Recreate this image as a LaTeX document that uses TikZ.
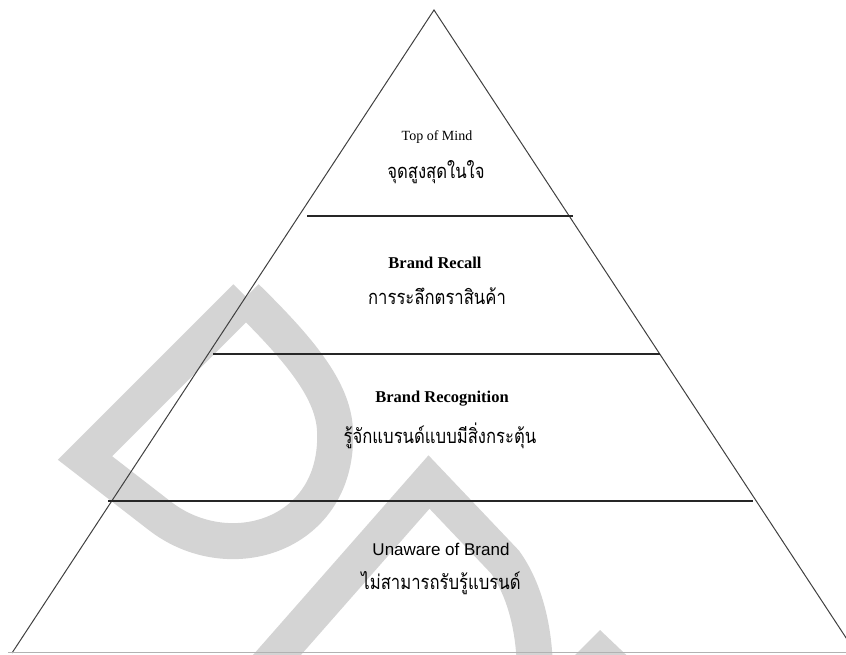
\documentclass[tikz,border=0pt]{standalone}
\usepackage{fontspec}
\setmainfont{Liberation Serif}
\newfontfamily\thaifont[Script=Thai]{Loma}
\newfontfamily\arialfont{Liberation Sans}
\newcommand\thtxt[1]{\scalebox{0.98}[1.18]{#1}}
\begin{document}
\begin{tikzpicture}[x=1pt,y=-1pt,
  wm/.style={draw=black!17,line width=36pt,line join=miter},
  edge/.style={draw=black!75,line width=1pt},
  band/.style={draw=black!85,line width=1.2pt},
  en/.style={font=\fontsize{14}{16}\selectfont,inner sep=0pt},
  enb/.style={font=\fontsize{16.5}{18}\selectfont\bfseries,inner sep=0pt},
  ensf/.style={font=\arialfont\fontsize{17}{19}\selectfont,inner sep=0pt},
  th/.style={font=\thaifont\fontsize{17}{20}\selectfont,inner sep=0pt}]
\useasboundingbox (0,0) rectangle (846,655);
\begin{scope}
\clip (0,0) rectangle (846,655);
% watermark
\draw[wm] (246,297) -- (85,458) -- (160,516) .. controls (230,570) and (340,535) .. (335,430) .. controls (333,390) and (300,350) .. (246,297);
\draw[wm] (262,672) -- (429,482) -- (505,562) .. controls (525,590) and (535,630) .. (535,675);
\fill[black!17] (600,630) -- (640,668) -- (562,668) -- cycle;
\end{scope}
% pyramid
\coordinate (apex) at (434,10);
\coordinate (bl) at (12,653);
\coordinate (br) at (856,653);
\draw[edge] (bl) -- (apex) -- (br);
\draw[draw=black!30,line width=1pt] (8,652) -- (846,652);
\coordinate (l1a) at (307,216); \coordinate (l1b) at (573,216);
\coordinate (l2a) at (213,354); \coordinate (l2b) at (660,354);
\coordinate (l3a) at (108,501); \coordinate (l3b) at (753,501);
\draw[band] (l1a) -- (l1b);
\draw[band] (l2a) -- (l2b);
\draw[band] (l3a) -- (l3b);
% texts
\node[en] (t1e) at (437,137) {Top of Mind};
\node[th] (t1t) at (436,172) {\thtxt{จุดสูงสุดในใจ}};
\node[enb] (t2e) at (435,263) {Brand Recall};
\node[th] (t2t) at (437,296) {\thtxt{การระลึกตราสินค้า}};
\node[enb] (t3e) at (442,399) {Brand Recognition};
\node[th] (t3t) at (440,436) {\thtxt{รู้จักแบรนด์แบบมีสิ่งกระตุ้น}};
\node[ensf] (t4e) at (441,549) {Unaware of Brand};
\node[th] (t4t) at (441,583) {\thtxt{ไม่สามารถรับรู้แบรนด์}};
\end{tikzpicture}
\end{document}
